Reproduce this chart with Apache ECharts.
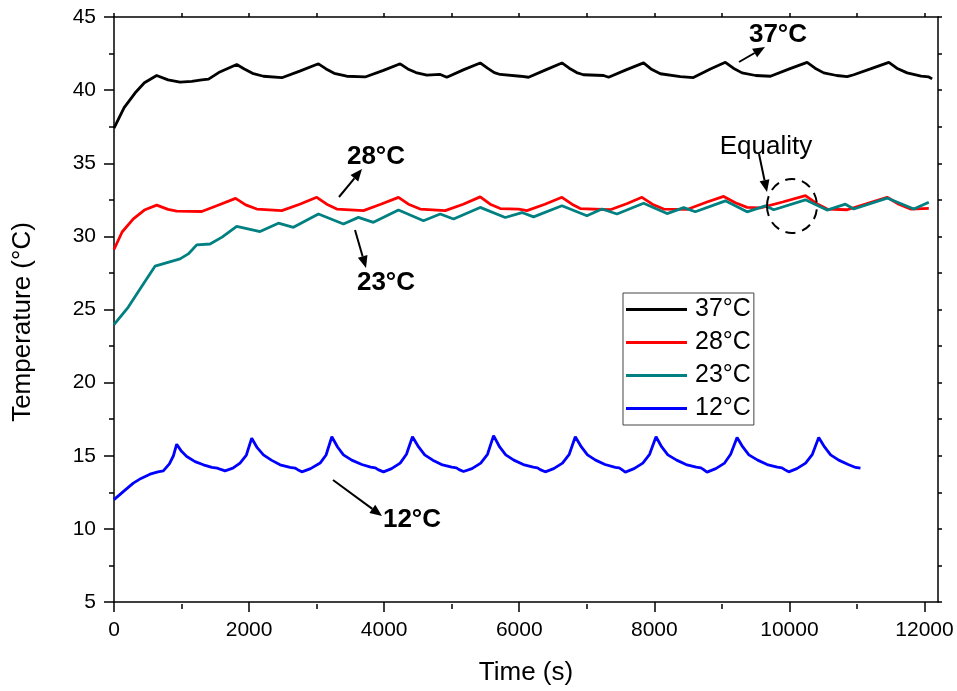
<!DOCTYPE html>
<html>
<head>
<meta charset="utf-8">
<script src="https://cdn.jsdelivr.net/npm/echarts@6/dist/echarts.min.js"></script>
<style>html,body{margin:0;padding:0;background:#fff}#c{width:957px;height:691px}</style>
</head>
<body>
<div id="c"></div>
<script>
// ---- data (time in s, temperature in °C) ----
const seriesNames = ['37°C', '28°C', '23°C', '12°C'];

const time37 = [0,150,311,450,632,800,978,1150,1299,1400,1550,1817,1930,2050,2212,2484,2750,3027,3140,3260,3446,3718,3990,4237,4350,4470,4632,4830,4928,5180,5422,5530,5630,5719,6015,6138,6400,6632,6740,6850,6950,7249,7323,7590,7841,7950,8089,8385,8578,8830,9052,9170,9299,9500,9719,10000,10262,10380,10508,10700,10855,10953,11200,11472,11590,11743,11950,12064,12113];
const temp37 = [37.4,38.8,39.8,40.5,41.0,40.7,40.55,40.6,40.7,40.75,41.2,41.75,41.45,41.15,40.95,40.85,41.3,41.8,41.45,41.15,40.95,40.9,41.35,41.8,41.45,41.2,41.02,41.07,40.88,41.4,41.86,41.5,41.2,41.07,40.95,40.88,41.4,41.86,41.5,41.2,41.05,41.0,40.88,41.4,41.86,41.45,41.12,40.93,40.86,41.45,41.9,41.5,41.18,41.0,40.95,41.45,41.9,41.5,41.18,41.0,40.92,41.05,41.45,41.9,41.5,41.18,40.95,40.9,40.77];

const time28 = [0,120,286,450,632,800,928,1299,1550,1800,1950,2114,2484,2750,3002,3150,3299,3693,3950,4212,4360,4533,4904,5170,5422,5570,5719,5990,6114,6380,6632,6780,6904,7348,7600,7817,7970,8138,8484,8780,9027,9200,9373,9570,9900,10237,10400,10558,10855,11150,11447,11620,11793,12064];
const temp28 = [29.1,30.3,31.2,31.8,32.14,31.85,31.72,31.7,32.15,32.6,32.15,31.87,31.76,32.2,32.67,32.2,31.87,31.76,32.2,32.67,32.2,31.87,31.76,32.2,32.7,32.2,31.9,31.87,31.76,32.2,32.67,32.2,31.9,31.82,32.25,32.67,32.2,31.87,31.84,32.35,32.73,32.3,31.98,31.95,32.35,32.78,32.25,31.87,31.82,32.25,32.67,32.2,31.87,31.92];

const time23 = [0,212,400,607,978,1100,1225,1422,1600,1817,2163,2434,2656,3027,3397,3619,3841,4212,4582,4830,5027,5422,5793,6040,6212,6632,7002,7225,7447,7841,8188,8435,8607,9052,9373,9644,9768,10237,10558,10829,10953,11447,11842,12064];
const temp23 = [23.96,25.17,26.5,27.96,28.46,28.8,29.42,29.48,29.95,30.69,30.33,30.9,30.62,31.53,30.85,31.3,30.96,31.8,31.07,31.53,31.19,31.98,31.29,31.63,31.33,32.09,31.41,31.87,31.53,32.27,31.56,31.97,31.68,32.43,31.68,32.09,31.82,32.5,31.8,32.2,31.87,32.62,31.87,32.33];

const time12 = [0,150,286,400,533,650,730,820,880,928,1000,1077,1200,1323,1450,1530,1570,1644,1760,1866,1960,2039,2120,2212,2330,2459,2607,2680,2720,2781,2910,3052,3140,3225,3310,3397,3520,3669,3800,3870,3910,3990,4110,4237,4330,4419,4510,4600,4720,4850,5000,5070,5110,5175,5300,5430,5530,5620,5710,5800,5920,6060,6207,6270,6310,6385,6510,6640,6740,6830,6920,7010,7130,7270,7422,7480,7520,7570,7700,7830,7930,8025,8110,8200,8330,8470,8620,8690,8730,8780,8910,9040,9130,9225,9310,9400,9530,9670,9820,9890,9930,9990,10110,10240,10340,10434,10520,10610,10730,10870,10980,11052];
const temp12 = [12.0,12.6,13.13,13.45,13.74,13.9,13.97,14.45,15.0,15.79,15.3,14.95,14.6,14.38,14.2,14.15,14.08,13.97,14.15,14.5,15.05,16.2,15.55,15.06,14.7,14.38,14.2,14.16,14.05,13.9,14.12,14.5,15.05,16.3,15.6,15.06,14.7,14.4,14.22,14.17,14.05,13.9,14.12,14.5,15.1,16.3,15.6,15.06,14.7,14.4,14.22,14.17,14.05,13.92,14.12,14.5,15.1,16.38,15.6,15.06,14.7,14.4,14.22,14.17,14.05,13.9,14.12,14.5,15.1,16.3,15.6,15.06,14.7,14.4,14.2,14.17,14.05,13.88,14.12,14.5,15.1,16.3,15.6,15.06,14.7,14.4,14.22,14.17,14.05,13.88,14.12,14.5,15.1,16.25,15.6,15.06,14.7,14.4,14.22,14.17,14.05,13.9,14.12,14.5,15.1,16.25,15.6,15.06,14.7,14.4,14.2,14.15];

// ---- tick labels ----
const xMajorTicks = [0,2000,4000,6000,8000,10000,12000];
const xMinorTicks = [1000,3000,5000,7000,9000,11000];
const xAllTicks = [0,1000,2000,3000,4000,5000,6000,7000,8000,9000,10000,11000,12000];

const seriesColors = ['#000000', '#ff0000', '#008080', '#0000ff'];
const FONT = '"Liberation Sans", Arial, Helvetica, sans-serif';

function zip(t, v) { return t.map((x, i) => [x, v[i]]); }
const allData = [zip(time37, temp37), zip(time28, temp28), zip(time23, temp23), zip(time12, temp12)];

const GRID = { left: 114, right: 19, top: 17, bottom: 87 };

function arrow(x1, y1, x2, y2) {
  const a = Math.atan2(y2 - y1, x2 - x1);
  const L = 12, W = 5;
  const bx = x2 - L * Math.cos(a), by = y2 - L * Math.sin(a);
  return [
    { type: 'line', shape: { x1: x1, y1: y1, x2: bx, y2: by }, style: { stroke: '#000', lineWidth: 2 }, z: 100 },
    { type: 'polygon', shape: { points: [[x2, y2], [bx + W * Math.sin(a), by - W * Math.cos(a)], [bx - W * Math.sin(a), by + W * Math.cos(a)]] }, style: { fill: '#000' }, z: 100 }
  ];
}
function label(txt, x, y, bold) {
  return { type: 'text', x: x, y: y, z: 100, style: { text: txt, fill: '#000', font: (bold ? 'bold ' : '') + '26px ' + FONT, textAlign: 'center', textVerticalAlign: 'middle' } };
}

const chart = echarts.init(document.getElementById('c'), null, { renderer: 'canvas' });
const tickStyle = { color: '#000', width: 1.5 };
chart.setOption({
  animation: false,
  backgroundColor: '#fff',
  textStyle: { fontFamily: FONT },
  grid: [
    Object.assign({ containLabel: false }, GRID),
    Object.assign({ containLabel: false }, GRID)
  ],
  legend: {
    data: seriesNames,
    orient: 'vertical',
    left: 623, top: 293,
    padding: [0, 3, 0, 3],
    itemGap: 0,
    itemWidth: 61, itemHeight: 3,
    icon: 'rect',
    borderColor: '#444', borderWidth: 1,
    textStyle: { fontSize: 25, color: '#000', fontFamily: FONT, lineHeight: 33, padding: [0, 0, 0, 3] }
  },
  xAxis: [
    {
      type: 'value', gridIndex: 0, position: 'bottom', min: 0, max: 12200, interval: 2000,
      axisLine: { show: true, onZero: false, lineStyle: tickStyle },
      axisTick: { show: true, inside: false, length: 10, lineStyle: tickStyle, customValues: xMajorTicks },
      minorTick: { show: false },
      splitLine: { show: false },
      axisLabel: { fontSize: 21, color: '#000', margin: 18, customValues: xMajorTicks,
        formatter: v => (v % 2000 === 0 ? String(v) : '') },
      name: 'Time (s)', nameLocation: 'middle', nameGap: 58,
      nameTextStyle: { fontSize: 26, color: '#000', fontFamily: FONT }
    },
    {
      type: 'value', gridIndex: 0, position: 'top', min: 0, max: 12200, interval: 2000,
      axisLine: { show: true, onZero: false, lineStyle: tickStyle },
      axisTick: { show: true, inside: false, length: 4, lineStyle: tickStyle, customValues: xAllTicks },
      axisLabel: { show: false }, splitLine: { show: false }
    },
    {
      type: 'value', gridIndex: 1, position: 'bottom', min: 0, max: 12200, interval: 2000,
      axisLine: { show: false, onZero: false },
      axisTick: { show: true, inside: false, length: 5, lineStyle: tickStyle, customValues: xMinorTicks },
      axisLabel: { show: false }, splitLine: { show: false }
    }
  ],
  yAxis: [
    {
      type: 'value', gridIndex: 0, position: 'left', min: 5, max: 45, interval: 5,
      axisLine: { show: true, onZero: false, lineStyle: tickStyle },
      axisTick: { show: true, inside: false, length: 10, lineStyle: tickStyle },
      minorTick: { show: true, splitNumber: 2, length: 5, lineStyle: tickStyle },
      splitLine: { show: false },
      axisLabel: { fontSize: 21, color: '#000', margin: 18 }
    },
    {
      type: 'value', gridIndex: 0, position: 'right', min: 5, max: 45, interval: 2.5,
      axisLine: { show: true, onZero: false, lineStyle: tickStyle },
      axisTick: { show: true, inside: false, length: 4, lineStyle: tickStyle },
      axisLabel: { show: false }, splitLine: { show: false }
    },
    {
      type: 'value', gridIndex: 1, min: 0, max: 1, show: false
    }
  ],
  series: seriesNames.map((n, i) => ({
    name: n, type: 'line', xAxisIndex: 0, yAxisIndex: 0,
    data: allData[i], showSymbol: false, symbol: 'none', smooth: false,
    lineStyle: { color: seriesColors[i], width: 2.8 }, itemStyle: { color: seriesColors[i] },
    z: 10 + i
  })),
  graphic: [].concat(
    [{ type: 'text', x: 23, y: 322, rotation: Math.PI / 2, z: 100,
       style: { text: 'Temperature (°C)', fill: '#000', font: '26px ' + FONT, textAlign: 'center', textVerticalAlign: 'middle' } }],
    [label('37°C', 778, 35, true), label('28°C', 376, 157, true), label('23°C', 386, 283, true), label('12°C', 412, 520, true), label('Equality', 766, 147, false)],
    arrow(739, 62, 765, 47),
    arrow(339, 197, 362, 169),
    arrow(355, 230, 366, 268),
    arrow(333, 480, 382, 516),
    arrow(759, 154, 767, 192),
    [{ type: 'ellipse', z: 100, shape: { cx: 792, cy: 206, rx: 25, ry: 27 },
       style: { fill: 'none', stroke: '#000', lineWidth: 2, lineDash: [10, 7] } }]
  )
});
</script>
</body>
</html>
